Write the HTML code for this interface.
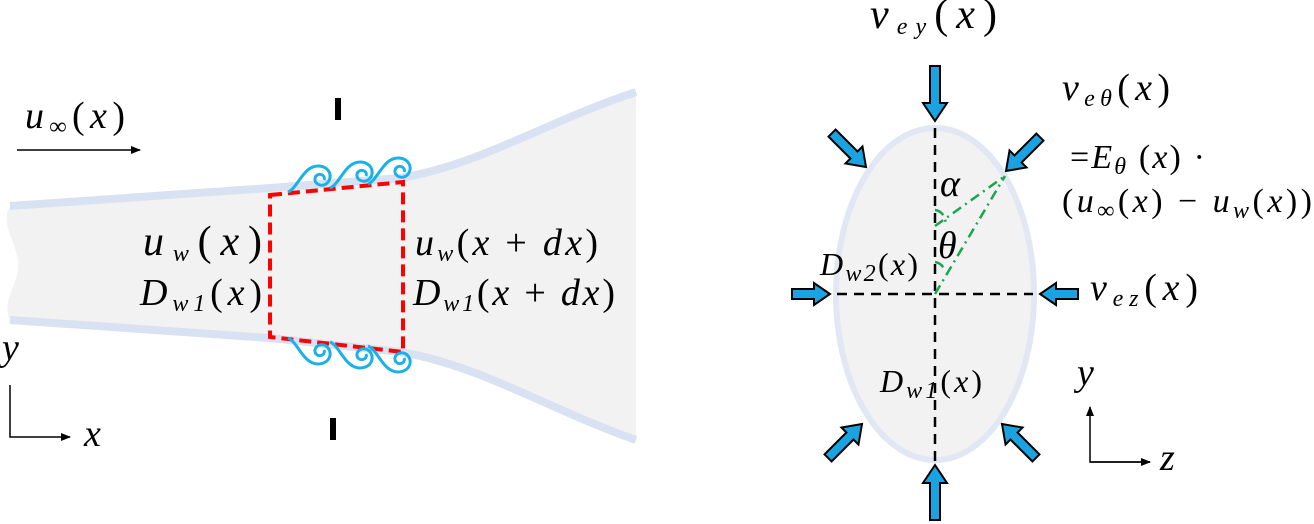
<!DOCTYPE html>
<html><head><meta charset="utf-8"><style>
body{margin:0;background:#fff}
svg{display:block}
text{font-family:"Liberation Serif",serif;font-style:italic;font-size:38px;fill:#000}
.s{font-size:24px}
.n{font-style:normal}
</style></head><body>
<svg width="1314" height="524" viewBox="0 0 1314 524">
<defs>
<marker id="ah" markerWidth="10" markerHeight="10" refX="9" refY="5" orient="auto" markerUnits="userSpaceOnUse"><path d="M0,1 L10,5 L0,9 z" fill="#000"/></marker>
<g id="barr"><path d="M-5,-55 L5,-55 L5,-18 L12,-18 L0,0 L-12,-18 L-5,-18 Z" fill="#1aa3e0" stroke="#000" stroke-width="2"/></g>
<g id="sarr"><path d="M-5,-38 L5,-38 L5,-16 L11,-16 L0,0 L-11,-16 L-5,-16 Z" fill="#1aa3e0" stroke="#000" stroke-width="2"/></g>
<g id="darr"><path d="M-5,-48 L5,-48 L5,-17 L12,-17 L0,0 L-12,-17 L-5,-17 Z" fill="#1aa3e0" stroke="#000" stroke-width="2"/></g>
<path id="curl" d="M-30,14 C-20,10 -15,-12 0,-12 C12,-12 16,0 8,6 C2,10 -6,4 -2,-2 C2,-6 8,-2 6,2" fill="none" stroke="#1ab0e8" stroke-width="3"/>
</defs>
<!-- plume -->
<path d="M10,206 L270,188 L400,178 C480,165 550,120 636,92 L636,440 C550,410 480,365 400,352 L270,338 L10,320 C0,300 20,285 18,262 C16,240 0,225 10,206 Z" fill="#f2f2f2"/>
<path d="M10,206 L270,188 L400,178 C480,165 550,120 636,92" fill="none" stroke="#d9e2f3" stroke-width="8"/>
<path d="M10,320 L270,338 L400,352 C480,365 550,410 636,440" fill="none" stroke="#d9e2f3" stroke-width="8"/>
<!-- red dashed box -->
<path d="M270,195 L403,182 L403,352 L270,337 Z" fill="none" stroke="#ff0000" stroke-width="4" stroke-dasharray="12,6"/>
<!-- vortices -->
<use href="#curl" transform="translate(318,178)"/>
<use href="#curl" transform="translate(360,174)"/>
<use href="#curl" transform="translate(398,170)"/>
<use href="#curl" transform="translate(318,352) scale(1,-1)"/>
<use href="#curl" transform="translate(360,356) scale(1,-1)"/>
<use href="#curl" transform="translate(398,360) scale(1,-1)"/>
<!-- I bars -->
<rect x="335" y="98" width="6" height="22" fill="#000"/>
<rect x="330" y="418" width="6" height="22" fill="#000"/>
<!-- left texts -->
<text x="25" y="128" textLength="100" lengthAdjust="spacing">u<tspan class="s" dy="6">∞</tspan><tspan dy="-6" class="n">(</tspan>x<tspan class="n">)</tspan></text>
<line x1="17" y1="150" x2="140" y2="150" stroke="#000" stroke-width="1.5" marker-end="url(#ah)"/>
<text x="143" y="255" style="font-size:42px" textLength="119" lengthAdjust="spacing">u<tspan class="s" dy="6">w</tspan><tspan dy="-6" class="n">(</tspan>x<tspan class="n">)</tspan></text>
<text x="140" y="305" textLength="122" lengthAdjust="spacing">D<tspan class="s" dy="6">w1</tspan><tspan dy="-6" class="n">(</tspan>x<tspan class="n">)</tspan></text>
<text x="415" y="255" textLength="183" lengthAdjust="spacing">u<tspan class="s" dy="6">w</tspan><tspan dy="-6" class="n">(</tspan>x<tspan class="n"> + </tspan>dx<tspan class="n">)</tspan></text>
<text x="413" y="305" textLength="202" lengthAdjust="spacing">D<tspan class="s" dy="6">w1</tspan><tspan dy="-6" class="n">(</tspan>x<tspan class="n"> + </tspan>dx<tspan class="n">)</tspan></text>
<!-- left axes -->
<text x="2" y="360">y</text>
<path d="M10,385 L10,437 L70,437" fill="none" stroke="#000" stroke-width="1.5" marker-end="url(#ah)"/>
<text x="84" y="446">x</text>
<!-- ellipse -->
<ellipse cx="935" cy="294" rx="99" ry="166" fill="#f2f2f2" stroke="#e1e8f4" stroke-width="6"/>
<g stroke="#000" stroke-width="2.5" stroke-dasharray="10,7">
<line x1="935" y1="128" x2="935" y2="462"/>
<line x1="837" y1="294" x2="1033" y2="294"/>
</g>
<g stroke="#1aa550" stroke-width="2.5" stroke-dasharray="10,5,2,5" fill="none">
<line x1="935" y1="226" x2="1005" y2="176"/>
<line x1="935" y1="294" x2="1005" y2="176"/>
<path d="M935,210 A12,12 0 0 1 945,225"/>
<path d="M935,262 A12,12 0 0 1 945,272"/>
</g>
<!-- blue arrows -->
<use href="#barr" transform="translate(935,121)"/>
<use href="#barr" transform="translate(935,465) rotate(180)"/>
<use href="#sarr" transform="translate(830,294) rotate(-90)"/>
<use href="#sarr" transform="translate(1040,294) rotate(90)"/>
<use href="#darr" transform="translate(866,167) rotate(-45)"/>
<use href="#darr" transform="translate(1006,171) rotate(45)"/>
<use href="#darr" transform="translate(862,424) rotate(-135)"/>
<use href="#darr" transform="translate(1002,424) rotate(135)"/>
<!-- right texts -->
<text x="870" y="28" style="font-size:42px" textLength="127" lengthAdjust="spacing">v<tspan class="s" dy="6">ey</tspan><tspan dy="-6" class="n">(</tspan>x<tspan class="n">)</tspan></text>
<text x="1062" y="100" textLength="108" lengthAdjust="spacing">v<tspan class="s" dy="6">eθ</tspan><tspan dy="-6" class="n">(</tspan>x<tspan class="n">)</tspan></text>
<text x="1070" y="168" style="font-size:34px" textLength="135" lengthAdjust="spacing"><tspan class="n">=</tspan>E<tspan class="s" dy="6">θ</tspan><tspan dy="-6" class="n"> (</tspan>x<tspan class="n">) ·</tspan></text>
<text x="1062" y="212" style="font-size:34px" textLength="250" lengthAdjust="spacing"><tspan class="n">(</tspan>u<tspan class="s" dy="6">∞</tspan><tspan dy="-6" class="n">(</tspan>x<tspan class="n">) − </tspan>u<tspan class="s" dy="6">w</tspan><tspan dy="-6" class="n">(</tspan>x<tspan class="n">))</tspan></text>
<text x="940" y="196">α</text>
<text x="938" y="258">θ</text>
<text x="820" y="275" style="font-size:32px" textLength="98" lengthAdjust="spacing">D<tspan class="s" dy="6">w2</tspan><tspan dy="-6" class="n">(</tspan>x<tspan class="n">)</tspan></text>
<text x="1090" y="300" textLength="108" lengthAdjust="spacing">v<tspan class="s" dy="6">ez</tspan><tspan dy="-6" class="n">(</tspan>x<tspan class="n">)</tspan></text>
<text x="880" y="392" style="font-size:32px" textLength="102" lengthAdjust="spacing">D<tspan class="s" dy="6">w1</tspan><tspan dy="-6" class="n">(</tspan>x<tspan class="n">)</tspan></text>
<!-- right axes -->
<text x="1077" y="385">y</text>
<path d="M1150,462 L1090,462 L1090,407" fill="none" stroke="#000" stroke-width="1.5" marker-end="url(#ah)"/>
<line x1="1090" y1="462" x2="1150" y2="462" stroke="#000" stroke-width="1.5" marker-end="url(#ah)"/>
<text x="1160" y="470">z</text>
</svg>
</body></html>
